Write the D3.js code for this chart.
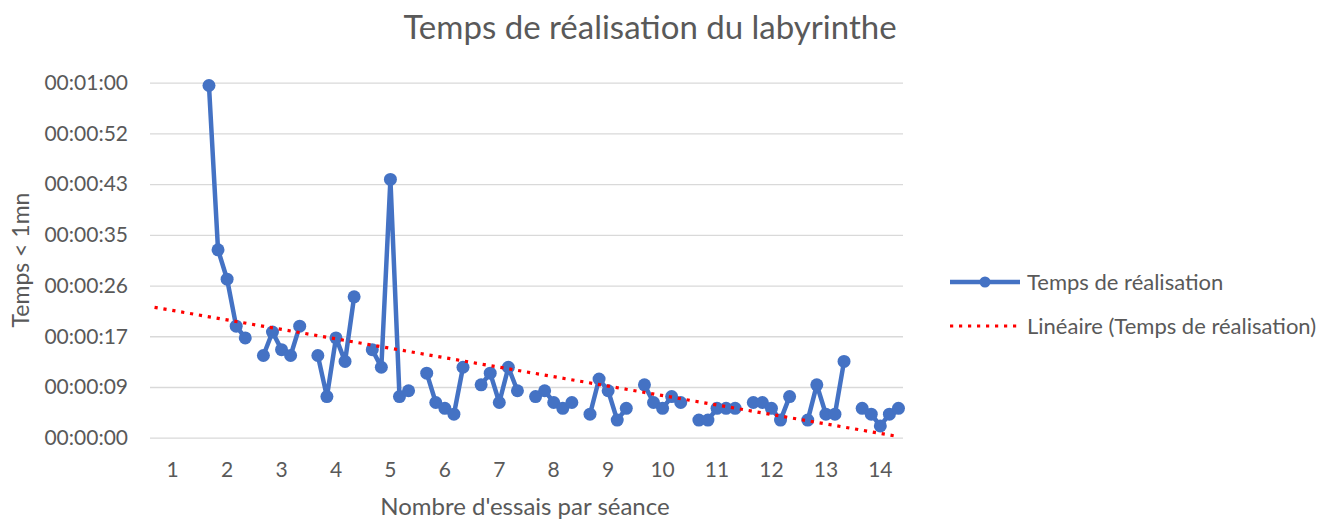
<!DOCTYPE html>
<html>
<head>
<meta charset="utf-8">
<script src="https://cdn.jsdelivr.net/npm/d3@7"></script>
<style>
  body { margin: 0; background: #fff; }
  text { font-family: Lato, "Open Sans", sans-serif; fill: #595959; }
</style>
</head>
<body>
<svg id="chart" width="1338" height="519"></svg>
<script>
// sessions (x labels), 5 trials each, 6 slots per session (last slot blank)
var sessions = [1, 2, 3, 4, 5, 6, 7, 8, 9, 10, 11, 12, 13, 14];
// times in seconds, one list per session (session 1: nothing under 1mn)
var s1  = [null, null, null, null, null];
var s2  = [60, 32, 27, 19, 17];
var s3  = [14, 18, 15, 14, 19];
var s4  = [14, 7, 17, 13, 24];
var s5  = [15, 12, 44, 7, 8];
var s6  = [11, 6, 5, 4, 12];
var s7  = [9, 11, 6, 12, 8];
var s8  = [7, 8, 6, 5, 6];
var s9  = [4, 10, 8, 3, 5];
var s10 = [9, 6, 5, 7, 6];
var s11 = [3, 3, 5, 5, 5];
var s12 = [6, 6, 5, 3, 7];
var s13 = [3, 9, 4, 4, 13];
var s14 = [5, 4, 2, 4, 5];
var times = [s1, s2, s3, s4, s5, s6, s7, s8, s9, s10, s11, s12, s13, s14];
// excel major unit 0.0001 day = 8.64 s
var yTicks = [0, 8.64, 17.28, 25.92, 34.56, 43.2, 51.84, 60.48];

var slotsPerSession = 6;
var nSlots = 83;

var svg = d3.select('#chart');
var plotL = 150, plotR = 903, plotT = 82.7, plotB = 437.7;

var x = d3.scaleBand()
  .domain(d3.range(nSlots))
  .range([plotL, plotR]);
var y = d3.scaleLinear()
  .domain([0, 60.48])
  .range([plotB, plotT]);

function cx(slot) { return x(slot) + x.bandwidth() / 2; }

function fmt(s) {
  s = Math.round(s);
  var m = Math.floor(s / 60), r = s % 60;
  return '00:' + (m < 10 ? '0' : '') + m + ':' + (r < 10 ? '0' : '') + r;
}

// gridlines + y labels
var yAxis = d3.axisLeft(y).tickValues(yTicks).tickFormat(fmt)
  .tickSize(-(plotR - plotL)).tickPadding(22);
var gy = svg.append('g').attr('transform', 'translate(' + plotL + ',0)').call(yAxis);
gy.select('.domain').remove();
gy.selectAll('line').attr('stroke', '#d9d9d9').attr('stroke-width', 1.3);
gy.selectAll('text').style('font-size', '21px').attr('fill', '#595959');

// x labels
var xAxis = d3.axisBottom(x)
  .tickValues(sessions.map(function(s) { return (s - 1) * slotsPerSession + 2; }))
  .tickFormat(function(d) { return (d - 2) / slotsPerSession + 1; })
  .tickSize(0).tickPadding(24);
var gx = svg.append('g').attr('transform', 'translate(0,' + plotB + ')').call(xAxis);
gx.select('.domain').remove();
gx.selectAll('text').style('font-size', '21px').attr('fill', '#595959');

// flatten points
var points = [];
times.forEach(function(list, i) {
  list.forEach(function(v, j) {
    if (v != null) points.push({ session: i, slot: i * slotsPerSession + j, value: v });
  });
});

// linear trend (excel: x = category index 1..n)
var mx = d3.mean(points, function(d) { return d.slot + 1; });
var my = d3.mean(points, function(d) { return d.value; });
var sxy = d3.sum(points, function(d) { return (d.slot + 1 - mx) * (d.value - my); });
var sxx = d3.sum(points, function(d) { return Math.pow(d.slot + 1 - mx, 2); });
var slope = sxy / sxx, inter = my - slope * mx;

svg.append('clipPath').attr('id', 'plot')
  .append('rect').attr('x', plotL).attr('y', plotT - 5).attr('width', plotR - plotL).attr('height', plotB - plotT + 5);

var trend = [0, nSlots - 1].map(function(s) { return [cx(s), y(inter + slope * (s + 1))]; });

// series lines, one per session (blank slot breaks the line)
var line = d3.line()
  .x(function(d) { return cx(d.slot); })
  .y(function(d) { return y(d.value); });

var groups = d3.groups(points, function(d) { return d.session; });
svg.append('g').selectAll('path')
  .data(groups)
  .enter().append('path')
  .attr('d', function(g) { return line(g[1]); })
  .attr('fill', 'none')
  .attr('stroke', '#4472c4')
  .attr('stroke-width', 4.5)
  .attr('stroke-linejoin', 'round');

svg.append('g').selectAll('circle')
  .data(points)
  .enter().append('circle')
  .attr('cx', function(d) { return cx(d.slot); })
  .attr('cy', function(d) { return y(d.value); })
  .attr('r', 6.5)
  .attr('fill', '#4472c4');

svg.append('path')
  .attr('clip-path', 'url(#plot)')
  .attr('d', d3.line()(trend))
  .attr('stroke', '#ff0000')
  .attr('stroke-width', 3.2)
  .attr('stroke-dasharray', '3.2,5.8')
  .attr('fill', 'none');

// titles
svg.append('text')
  .attr('x', 650).attr('y', 39)
  .attr('text-anchor', 'middle')
  .style('font-size', '33px')
  .text('Temps de réalisation du labyrinthe');

svg.append('text')
  .attr('x', 525).attr('y', 515)
  .attr('text-anchor', 'middle')
  .style('font-size', '24px')
  .text("Nombre d'essais par séance");

svg.append('text')
  .attr('transform', 'translate(29,260) rotate(-90)')
  .attr('text-anchor', 'middle')
  .style('font-size', '23px')
  .text('Temps < 1mn');

// legend
var legend = svg.append('g');
legend.append('line')
  .attr('x1', 950).attr('x2', 1020).attr('y1', 282).attr('y2', 282)
  .attr('stroke', '#4472c4').attr('stroke-width', 4.5);
legend.append('circle').attr('cx', 985).attr('cy', 282).attr('r', 5.5).attr('fill', '#4472c4');
legend.append('text').attr('x', 1027).attr('y', 290).style('font-size', '22px').text('Temps de réalisation');
legend.append('line')
  .attr('x1', 950).attr('x2', 1020).attr('y1', 326).attr('y2', 326)
  .attr('stroke', '#ff0000').attr('stroke-width', 3.2).attr('stroke-dasharray', '3.2,5.8');
legend.append('text').attr('x', 1027).attr('y', 334).style('font-size', '22px').text('Linéaire (Temps de réalisation)');
</script>
</body>
</html>
